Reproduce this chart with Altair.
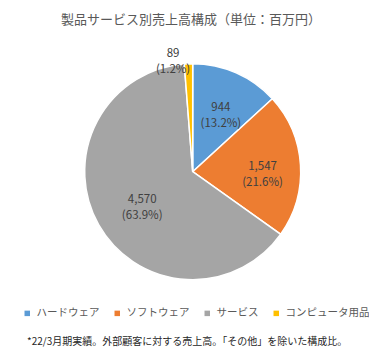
import altair as alt
import pandas as pd

categories = ["ハードウェア", "ソフトウェア", "サービス", "コンピュータ用品"]
values = [944, 1547, 4570, 89]
percents = ["13.2%", "21.6%", "63.9%", "1.2%"]
colors = ["#5B9BD5", "#ED7D31", "#A5A5A5", "#FFC000"]

title_text = "製品サービス別売上高構成（単位：百万円）"
footnote = "*22/3月期実績。外部顧客に対する売上高。「その他」を除いた構成比。"

df = pd.DataFrame({
    "category": categories,
    "value": values,
    "order": list(range(len(categories))),
    "label": [f"{v:,}\n({p})" for v, p in zip(values, percents)],
})

FONT = "Noto Sans CJK JP"
CX, CY = 184.7, 133.7

base = alt.Chart(df).encode(
    theta=alt.Theta("value:Q", stack=True),
    order=alt.Order("order:Q"),
    x=alt.value(CX),
    y=alt.value(CY),
)

pie = base.mark_arc(outerRadius=108, stroke="white", strokeWidth=1.5).encode(
    color=alt.Color(
        "category:N",
        scale=alt.Scale(domain=categories, range=colors),
        sort=categories,
        legend=alt.Legend(
            title=None,
            orient="none",
            legendX=14,
            legendY=270,
            direction="horizontal",
            columns=4,
            symbolType="square",
            symbolSize=30,
            symbolStrokeWidth=0,
            labelFont=FONT,
            labelFontSize=10.5,
            labelColor="#595959",
            columnPadding=12,
            labelOffset=4,
            labelLimit=200,
        ),
    )
)

def label_layer(cond, radius, dx=0):
    return base.transform_calculate(
        lab=f"({cond}) ? datum.label : ''"
    ).mark_text(
        radius=radius, lineBreak="\n", font=FONT, fontSize=11.5,
        color="#404040", lineHeight=16, dx=dx, baseline="middle",
    ).encode(text="lab:N")

lab_a = label_layer("datum.category == 'ハードウェア' || datum.category == 'ソフトウェア'", 70)
lab_b = label_layer("datum.category == 'サービス'", 58)
lab_c = label_layer("datum.category == 'コンピュータ用品'", 118, dx=-15)

title = alt.Chart(pd.DataFrame({"t": [title_text]})).mark_text(
    align="center", baseline="middle", font=FONT, fontSize=13, color="#595959"
).encode(text="t:N", x=alt.value(183), y=alt.value(-18))

note = alt.Chart(pd.DataFrame({"t": [footnote]})).mark_text(
    align="left", baseline="middle", font=FONT, fontSize=10, color="#262626"
).encode(text="t:N", x=alt.value(19), y=alt.value(304))

chart = alt.layer(pie, lab_a, lab_b, lab_c, title, note).properties(
    width=361,
    height=310,
    padding={"left": 0, "top": 30, "right": 0, "bottom": 0},
    autosize=alt.AutoSizeParams(type="none"),
).configure_view(stroke=None)

chart.save("out.html", embed_options={"renderer": "svg", "actions": False})
